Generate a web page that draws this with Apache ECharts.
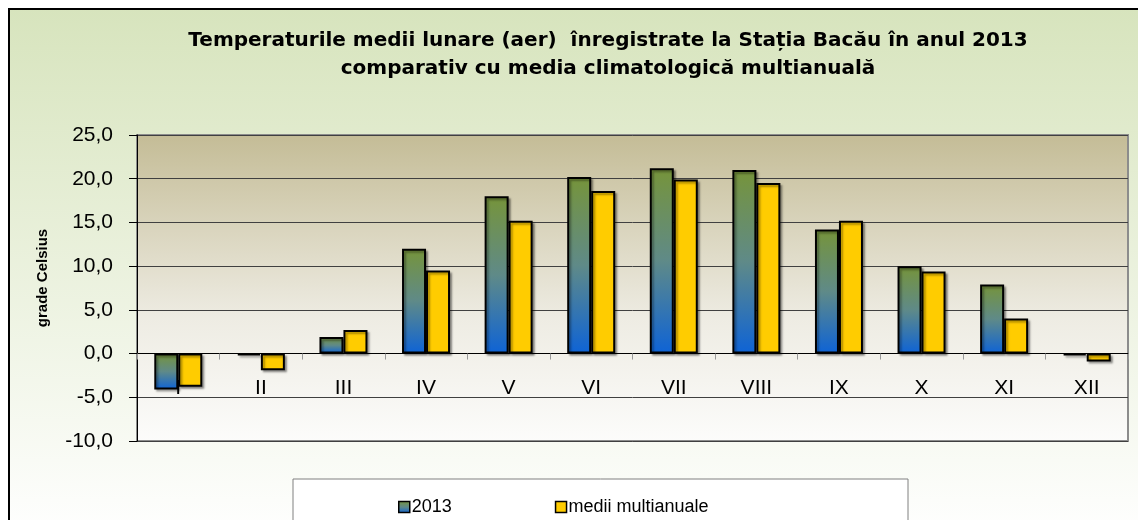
<!DOCTYPE html>
<html>
<head>
<meta charset="utf-8">
<script src="https://cdn.jsdelivr.net/npm/echarts@6/dist/echarts.min.js"></script>
<style>
  html, body { margin: 0; padding: 0; background: #fff; }
  #main { width: 1138px; height: 520px; }
</style>
</head>
<body>
<div id="main"></div>
<script>
var months = ['I', 'II', 'III', 'IV', 'V', 'VI', 'VII', 'VIII', 'IX', 'X', 'XI', 'XII'];
var values2013 = [-4.1, -0.2, 1.9, 12.0, 18.0, 20.2, 21.2, 21.0, 14.2, 10.0, 7.9, -0.2];
var valuesMedii = [-3.8, -1.9, 2.7, 9.5, 15.2, 18.6, 19.9, 19.5, 15.2, 9.4, 4.0, -0.9];
var seriesNames = ['2013', 'medii multianuale'];
var yMin = -10, yMax = 25, yStep = 5;

var font = '"Liberation Sans", Arial, sans-serif';

var gridTop = 135, gridBottom = 79, chartHeight = 520;
var plotHeight = chartHeight - gridTop - gridBottom;
// move the category axis up to the 0 line
var zeroOffset = (0 - yMin) / (yMax - yMin) * plotHeight;

var chart = echarts.init(document.getElementById('main'));

var greenBlue = new echarts.graphic.LinearGradient(0, 0, 0, 1, [
    { offset: 0, color: '#76943a' },
    { offset: 0.5, color: '#5f8a88' },
    { offset: 1, color: '#0e63d6' }
]);

var barShadow = {
    shadowColor: 'rgba(0,0,0,0.35)',
    shadowBlur: 2,
    shadowOffsetX: 2,
    shadowOffsetY: 2
};

option = {
    animation: false,
    graphic: [
        {
            type: 'rect',
            z: -10,
            shape: { x: 9, y: 9, width: 1140, height: 530 },
            style: {
                fill: new echarts.graphic.LinearGradient(0, 0, 0, 1, [
                    { offset: 0, color: '#d7e4bd' },
                    { offset: 1, color: '#ffffff' }
                ]),
                stroke: '#000',
                lineWidth: 2
            }
        },
        {
            type: 'rect',
            z: -5,
            shape: { x: 293, y: 479, width: 615, height: 50 },
            style: { fill: '#ffffff', stroke: '#808080', lineWidth: 1 }
        }
    ],
    title: {
        text: 'Temperaturile medii lunare (aer)  înregistrate la Stația Bacău în anul 2013\ncomparativ cu media climatologică multianuală',
        left: 603,
        top: 22,
        textAlign: 'center',
        textStyle: {
            fontFamily: '"DejaVu Sans", sans-serif',
            fontSize: 20,
            fontWeight: 'bold',
            color: '#000',
            lineHeight: 28
        }
    },
    legend: {
        left: 393,
        top: 493,
        itemWidth: 11,
        itemHeight: 11,
        itemGap: 103,
        icon: 'rect',
        textStyle: { fontFamily: font, fontSize: 18, color: '#000', padding: [0, 0, 0, -3] },
        data: [
            { name: seriesNames[0], itemStyle: { color: greenBlue, borderColor: '#000', borderWidth: 1.5 } },
            { name: seriesNames[1], itemStyle: { color: '#ffcc00', borderColor: '#000', borderWidth: 1.5 } }
        ]
    },
    grid: {
        left: 137,
        right: 10,
        top: gridTop,
        bottom: gridBottom,
        show: true,
        backgroundColor: new echarts.graphic.LinearGradient(0, 0, 0, 1, [
            { offset: 0, color: '#c4bc96' },
            { offset: 0.6, color: '#eeece3' },
            { offset: 1, color: '#fcfcfb' }
        ]),
        borderColor: '#8c8c8c',
        borderWidth: 2
    },
    xAxis: {
        type: 'category',
        data: months,
        offset: -zeroOffset,
        axisLine: { onZero: false, lineStyle: { color: '#000', width: 1 } },
        axisTick: { show: true, length: 6, lineStyle: { color: '#999' } },
        axisLabel: { fontFamily: font, fontSize: 21, color: '#000', margin: 24 },
        splitLine: { show: false }
    },
    yAxis: {
        type: 'value',
        min: yMin,
        max: yMax,
        interval: yStep,
        name: 'grade Celsius',
        nameLocation: 'middle',
        nameRotate: 90,
        nameGap: 87,
        nameTextStyle: { fontFamily: font, fontSize: 15, fontWeight: 'bold', color: '#000', padding: [0, 0, 0, 20] },
        axisLine: { show: true, lineStyle: { color: '#000', width: 1 } },
        axisTick: { show: true, length: 8, lineStyle: { color: '#000' } },
        axisLabel: {
            fontFamily: font,
            fontSize: 21,
            color: '#000',
            margin: 24,
            formatter: function (v) { return v.toFixed(1).replace('.', ','); }
        },
        splitLine: { show: true, lineStyle: { color: '#404040', width: 1 } }
    },
    series: [
        {
            name: seriesNames[0],
            type: 'bar',
            data: values2013,
            barWidth: 24,
            barGap: '0%',
            itemStyle: Object.assign({ color: greenBlue, borderColor: '#000', borderWidth: 2 }, barShadow)
        },
        {
            name: seriesNames[1],
            type: 'bar',
            data: valuesMedii,
            barWidth: 24,
            itemStyle: Object.assign({ color: '#ffcc00', borderColor: '#000', borderWidth: 2 }, barShadow)
        }
    ]
};

chart.setOption(option);
</script>
</body>
</html>
